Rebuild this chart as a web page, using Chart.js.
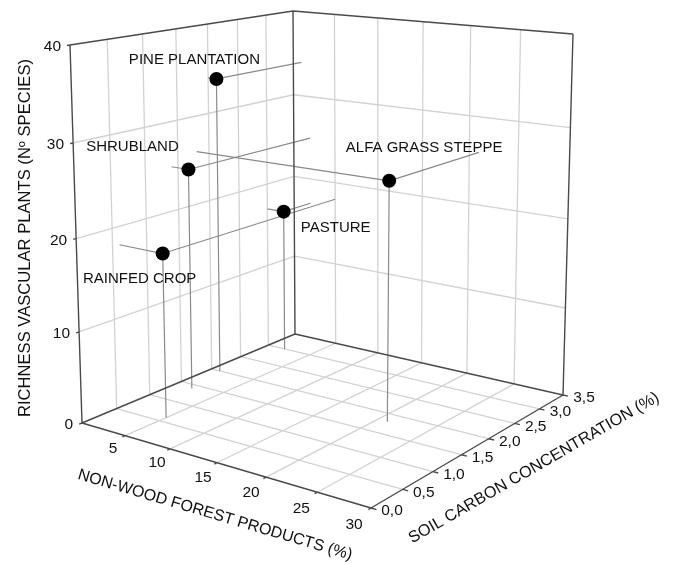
<!DOCTYPE html>
<html>
<head>
<meta charset="utf-8">
<style>
  html, body { margin: 0; padding: 0; background: #fff; }
  canvas { display: block; }
</style>
<script src="https://cdn.jsdelivr.net/npm/chart.js@4"></script>
</head>
<body>
<canvas id="chart" width="676" height="564"></canvas>
<script>
// values
const landUses = ['PINE PLANTATION', 'SHRUBLAND', 'ALFA GRASS STEPPE', 'PASTURE', 'RAINFED CROP'];
const forestProducts = [1, 2, 21, 2, 5];
const soilCarbon = [2.0, 1.4, 1.8, 3.0, 0.6];
const richness = [34, 25, 26, 17, 18];

const forestTicks = [5, 10, 15, 20, 25, 30];
const soilTicks = ['0,0', '0,5', '1,0', '1,5', '2,0', '2,5', '3,0', '3,5'];
const richnessTicks = [0, 10, 20, 30, 40];

const forestMax = 30, soilMax = 3.5, richnessMax = 40;

// box corners on the page: left, front, right, back
const floorQuad = [[82, 423], [371, 508], [563, 395], [295, 334]];
const topQuad = [[70, 45], [376, 80], [573, 34], [293, 11]];

// square -> quad perspective map
function makeHomography(q) {
  const [[x0, y0], [x1, y1], [x2, y2], [x3, y3]] = q;
  const dx1 = x1 - x2, dx2 = x3 - x2, sx = x0 - x1 + x2 - x3;
  const dy1 = y1 - y2, dy2 = y3 - y2, sy = y0 - y1 + y2 - y3;
  const den = dx1 * dy2 - dx2 * dy1;
  const g = (sx * dy2 - dx2 * sy) / den;
  const h = (dx1 * sy - sx * dy1) / den;
  const a = x1 - x0 + g * x1, b = x3 - x0 + h * x3;
  const d = y1 - y0 + g * y1, e = y3 - y0 + h * y3;
  return (u, v) => {
    const w = g * u + h * v + 1;
    return [(a * u + b * v + x0) / w, (d * u + e * v + y0) / w];
  };
}
const floorMap = makeHomography(floorQuad);
const topMap = makeHomography(topQuad);

function project(forest, soil, rich) {
  const u = forest / forestMax, v = soil / soilMax, w = rich / richnessMax;
  const b = floorMap(u, v), t = topMap(u, v);
  const k = w / (w + (1 - w) * 1.05); // heights shrink a little towards the floor
  return { x: b[0] + (t[0] - b[0]) * k, y: b[1] + (t[1] - b[1]) * k };
}

// builds one polyline dataset out of separate segments
function segments(list, color, width) {
  const data = [];
  list.forEach(([a, b]) => {
    data.push(project(...a), project(...b), { x: null, y: null });
  });
  return {
    data, showLine: true, spanGaps: false, borderColor: color, borderWidth: width,
    pointRadius: 0, borderCapStyle: 'butt', tension: 0
  };
}

const grid = [];
for (const f of [5, 10, 15, 20, 25]) {
  grid.push([[f, 0, 0], [f, soilMax, 0]]);
  grid.push([[f, soilMax, 0], [f, soilMax, richnessMax]]);
}
for (const s of [0.5, 1, 1.5, 2, 2.5, 3]) {
  grid.push([[0, s, 0], [forestMax, s, 0]]);
  grid.push([[0, s, 0], [0, s, richnessMax]]);
}
for (const r of [10, 20, 30]) {
  grid.push([[0, 0, r], [0, soilMax, r]]);
  grid.push([[0, soilMax, r], [forestMax, soilMax, r]]);
}

const stems = [];
landUses.forEach((_, i) => {
  const f = forestProducts[i], s = soilCarbon[i], r = richness[i];
  stems.push([[f, s, r], [f, s, 0]]);
  stems.push([[f, s, r], [0, s, r]]);
  stems.push([[f, s, r], [f, soilMax, r]]);
});

const frame = [
  [[0, 0, 0], [forestMax, 0, 0]],
  [[forestMax, 0, 0], [forestMax, soilMax, 0]],
  [[forestMax, soilMax, 0], [0, soilMax, 0]],
  [[0, soilMax, 0], [0, 0, 0]],
  [[0, 0, 0], [0, 0, richnessMax]],
  [[0, soilMax, 0], [0, soilMax, richnessMax]],
  [[forestMax, soilMax, 0], [forestMax, soilMax, richnessMax]],
  [[0, 0, richnessMax], [0, soilMax, richnessMax]],
  [[0, soilMax, richnessMax], [forestMax, soilMax, richnessMax]]
];
forestTicks.forEach(f => frame.push([[f, 0, 0], [f, -0.04, 0]]));
soilTicks.forEach(t => {
  const s = parseFloat(t.replace(',', '.'));
  frame.push([[forestMax, s, 0], [forestMax + 0.5, s, 0]]);
});
richnessTicks.forEach(r => frame.push([[0, 0, r], [0, -0.04, r]]));

const points = {
  data: landUses.map((_, i) => project(forestProducts[i], soilCarbon[i], richness[i])),
  showLine: false, pointRadius: 7, pointHoverRadius: 7,
  pointBackgroundColor: '#000', pointBorderColor: '#000', pointBorderWidth: 0
};

// text offsets from the marks, in px
const labelNudge = [[-22, -19], [-56, -23], [35, -33], [52, 16], [-23, 25]];

const textPlugin = {
  id: 'texts',
  afterDatasetsDraw(chart) {
    const ctx = chart.ctx;
    const put = (txt, x, y, font, align, angle) => {
      ctx.save();
      ctx.translate(x, y);
      ctx.rotate((angle || 0) * Math.PI / 180);
      ctx.font = font;
      ctx.fillStyle = '#111';
      ctx.textAlign = align || 'center';
      ctx.textBaseline = 'middle';
      ctx.fillText(txt, 0, 0);
      ctx.restore();
    };
    const tickFont = '15.5px "Liberation Sans"';
    const labelFont = '15px "Liberation Sans"';

    richnessTicks.forEach(r => {
      const p = project(0, 0, r);
      put(String(r), p.x - 9, p.y + 2, tickFont, 'right');
    });
    forestTicks.forEach(f => {
      const p = project(f, 0, 0);
      put(String(f), p.x - 11 - f * 0.2, p.y + 12 + f * 0.17, tickFont);
    });
    soilTicks.forEach(t => {
      const p = project(forestMax, parseFloat(t.replace(',', '.')), 0);
      put(t, p.x + 21, p.y + 3, tickFont);
    });
    landUses.forEach((name, i) => {
      const p = project(forestProducts[i], soilCarbon[i], richness[i]);
      put(name, p.x + labelNudge[i][0], p.y + labelNudge[i][1], labelFont);
    });
    put('RICHNESS VASCULAR PLANTS (Nº SPECIES)', 25, 238, '16.6px "Liberation Sans"', 'center', -90);
    put('NON-WOOD FOREST PRODUCTS (%)', 215, 515, '16px "Liberation Sans"', 'center', 16.5);
    put('SOIL CARBON CONCENTRATION (%)', 534, 468, '16.3px "Liberation Sans"', 'center', -30);
  }
};

new Chart(document.getElementById('chart'), {
  type: 'scatter',
  data: {
    // first dataset ends up on top
    datasets: [
      points,
      segments(frame, '#4a4a4a', 1.4),
      segments(stems, '#8a8a8a', 1.2),
      segments(grid, '#d2d2d2', 1.3)
    ]
  },
  options: {
    responsive: false,
    animation: false,
    layout: { padding: 0, autoPadding: false },
    plugins: { legend: { display: false }, tooltip: { enabled: false } },
    scales: {
      x: { type: 'linear', min: 0, max: 676, display: false },
      y: { type: 'linear', min: 0, max: 564, reverse: true, display: false }
    }
  },
  plugins: [textPlugin]
});
</script>
</body>
</html>
